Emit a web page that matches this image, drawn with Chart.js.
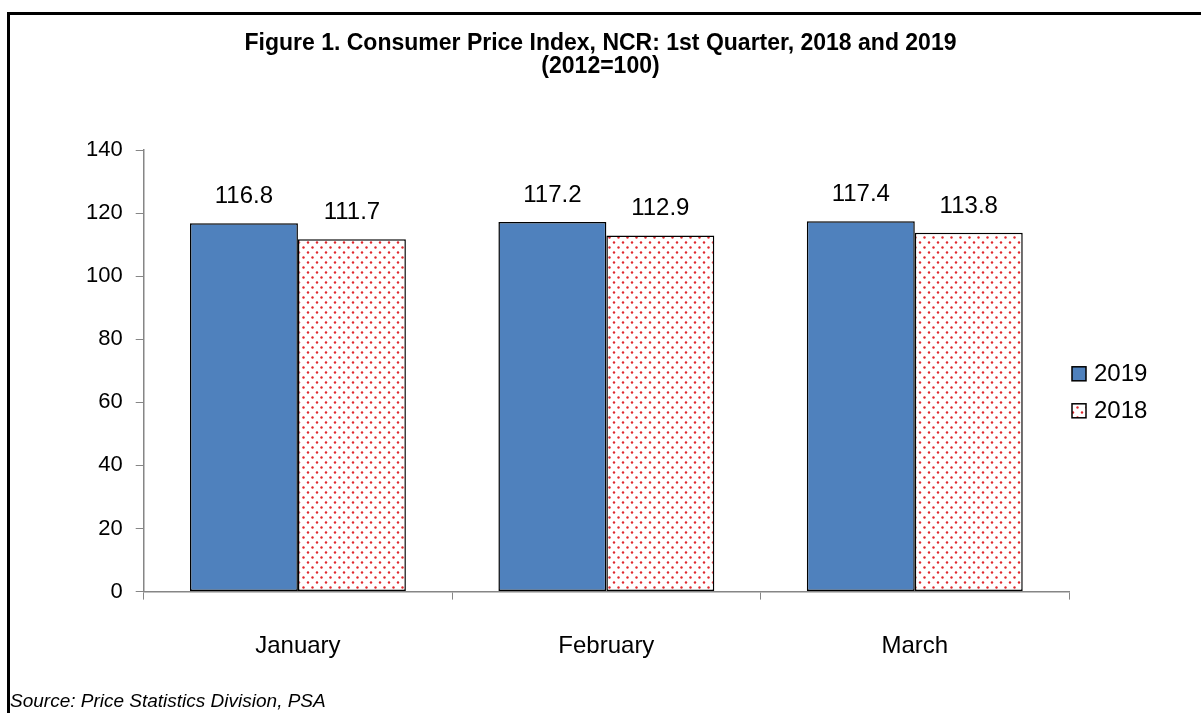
<!DOCTYPE html>
<html>
<head>
<meta charset="utf-8">
<title>Consumer Price Index, NCR</title>
<script src="https://cdn.jsdelivr.net/npm/chart.js@4"></script>
<style>
  html, body { margin: 0; padding: 0; background: #fff; }
  #wrap { position: relative; width: 1201px; height: 713px; overflow: hidden; }
  #frame {
    position: absolute; left: 7px; top: 12px; width: 1300px; height: 800px;
    border-top: 3px solid #000; border-left: 3px solid #000; pointer-events: none;
  }
  #source {
    position: absolute; left: 10px; top: 690px;
    font: italic 19px "Liberation Sans", Arial, sans-serif; color: #000;
  }
  canvas { position: absolute; left: 0; top: 0; }
</style>
</head>
<body>
<div id="wrap">
  <canvas id="cpiChart" width="1201" height="713"></canvas>
  <div id="frame"></div>
  <div id="source">Source: Price Statistics Division, PSA</div>
</div>
<script>
const months = ['January', 'February', 'March'];
const cpi2019 = [116.8, 117.2, 117.4];
const cpi2018 = [111.7, 112.9, 113.8];
const yTicks = [0, 20, 40, 60, 80, 100, 120, 140];
const titleLines = ['Figure 1. Consumer Price Index, NCR: 1st Quarter, 2018 and 2019', '(2012=100)'];

document.addEventListener('DOMContentLoaded', function () {
  const ctx = document.getElementById('cpiChart').getContext('2d');
  const FONT = '"Liberation Sans", Arial, sans-serif';

  // dotted red fill used for the 2018 bars
  function dotPattern() {
    const c = document.createElement('canvas');
    c.width = 9;
    c.height = 10;
    const g = c.getContext('2d');
    g.fillStyle = '#ffffff';
    g.fillRect(0, 0, 9, 10);
    g.fillStyle = '#e0282d';
    [[2, 2.5], [6.5, 7.5]].forEach(function (p) {
      g.beginPath();
      g.arc(p[0], p[1], 1.2, 0, Math.PI * 2);
      g.fill();
    });
    return g.createPattern(c, 'repeat');
  }
  const dots = dotPattern();

  // title centred on the whole canvas (the built-in one centres between paddings)
  const pageTitle = {
    id: 'pageTitle',
    afterDraw(chart) {
      const c = chart.ctx;
      c.save();
      c.font = 'bold 23px ' + FONT;
      c.fillStyle = '#000';
      c.textAlign = 'center';
      c.textBaseline = 'middle';
      titleLines.forEach(function (line, i) {
        c.fillText(line, chart.width / 2, 44 + i * 23);
      });
      c.restore();
    }
  };

  // value labels above bars
  const valueLabels = {
    id: 'valueLabels',
    afterDatasetsDraw(chart) {
      const c = chart.ctx;
      c.save();
      c.font = '24px ' + FONT;
      c.fillStyle = '#000';
      c.textAlign = 'center';
      c.textBaseline = 'alphabetic';
      chart.data.datasets.forEach(function (ds, i) {
        chart.getDatasetMeta(i).data.forEach(function (bar, j) {
          c.fillText(ds.data[j].toFixed(1), bar.x, bar.y - 20);
        });
      });
      c.restore();
    }
  };

  // legend at the right, drawn like the Excel one
  const sideLegend = {
    id: 'sideLegend',
    afterDraw(chart) {
      const c = chart.ctx;
      const area = chart.chartArea;
      const midY = (area.top + area.bottom) / 2 + 21.5;
      c.save();
      c.font = '24px ' + FONT;
      c.textBaseline = 'middle';
      chart.data.datasets.forEach(function (ds, i) {
        const y = midY + (i - 0.5) * 37;
        const x = area.right + 3;
        c.fillStyle = ds.backgroundColor;
        c.fillRect(x, y - 7, 14, 14);
        c.strokeStyle = '#000';
        c.lineWidth = 1.5;
        c.strokeRect(x, y - 7, 14, 14);
        c.fillStyle = '#000';
        c.fillText(ds.label, x + 22, y + 1);
      });
      c.restore();
    }
  };

  new Chart(ctx, {
    type: 'bar',
    data: {
      labels: months,
      datasets: [{
        label: '2019',
        data: cpi2019,
        backgroundColor: '#4f81bd',
        borderColor: '#000',
        borderWidth: 1.5,
        borderSkipped: false
      }, {
        label: '2018',
        data: cpi2018,
        backgroundColor: dots,
        borderColor: '#000',
        borderWidth: 1.5,
        borderSkipped: false
      }]
    },
    options: {
      responsive: false,
      animation: false,
      categoryPercentage: 0.7,
      barPercentage: 1.0,
      layout: {
        padding: { left: 73, right: 132, top: 150, bottom: 20.6 }
      },
      plugins: {
        legend: { display: false },
        tooltip: { enabled: false },
        title: { display: false }
      },
      scales: {
        x: {
          grid: { drawOnChartArea: false, tickLength: 8, color: '#868686' },
          border: { color: '#868686', width: 1.5 },
          ticks: { color: '#000', padding: 32, font: { family: FONT, size: 24 } }
        },
        y: {
          min: yTicks[0],
          max: yTicks[yTicks.length - 1],
          afterBuildTicks(axis) {
            axis.ticks = yTicks.map(function (v) { return { value: v }; });
          },
          grid: { drawOnChartArea: false, tickLength: 8, color: '#868686' },
          border: { color: '#868686', width: 1.5 },
          ticks: { color: '#000', padding: 13, font: { family: FONT, size: 22 } }
        }
      }
    },
    plugins: [pageTitle, valueLabels, sideLegend]
  });
});
</script>
</body>
</html>
